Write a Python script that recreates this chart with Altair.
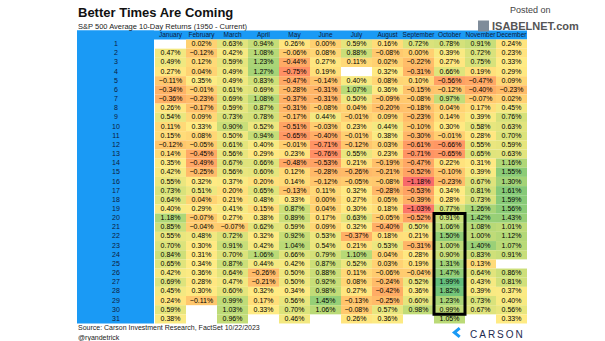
import altair as alt
import pandas as pd
import numpy as np

FONT = "Liberation Sans"

months = ["January", "February", "March", "April", "May", "June", "July",
          "August", "September", "October", "November", "December"]
days = list(range(1, 32))
N = None

jan = [N, 0.47, 0.49, 0.27, -0.11, -0.34, -0.36, 0.26, 0.54, 0.11, 0.15, -0.12, 0.14, 0.35, 0.42, 0.55,
       0.73, 0.64, 0.40, 1.18, 0.85, 0.55, 0.70, 0.84, 0.65, 0.42, 0.69, 0.45, 0.24, 0.59, 0.38]
feb = [0.02, -0.12, 0.12, 0.04, 0.35, -0.01, -0.23, -0.17, 0.09, 0.33, 0.08, -0.05, -0.45, -0.49, -0.25, 0.32,
       0.51, 0.04, 0.29, -0.07, -0.04, 0.48, 0.30, 0.31, 0.34, 0.36, 0.28, 0.30, -0.11, N, N]
mar = [0.63, 0.42, 0.59, 0.49, 0.49, 0.61, 0.69, 0.59, 0.73, 0.90, 0.50, 0.61, 0.56, 0.67, 0.56, 0.37,
       0.20, 0.21, 0.41, 0.27, -0.07, 0.72, 0.91, 0.70, 0.87, 0.64, 0.47, 0.60, 0.99, 1.03, 0.96]
apr = [0.94, 1.08, 1.23, 1.27, 0.83, 0.69, 1.08, 0.87, 0.78, 0.52, 0.94, 0.40, 0.29, 0.66, 0.60, 0.20,
       0.65, 0.48, 0.15, 0.38, 0.62, 0.32, 0.42, 1.06, 0.44, -0.26, -0.21, 0.32, 0.17, 0.33, N]
may = [0.26, -0.06, -0.44, -0.75, -0.47, -0.28, -0.37, -0.31, -0.17, -0.51, -0.65, -0.01, 0.23, -0.48, 0.12, 0.14,
       -0.13, 0.33, 0.87, 0.89, 0.59, 0.92, 1.04, 0.66, 0.42, 0.50, 0.50, 0.34, 0.56, 0.70, 0.46]
jun = [0.00, 0.08, 0.27, 0.19, -0.14, -0.31, -0.31, -0.08, 0.44, -0.03, -0.40, -0.71, -0.76, -0.53, -0.28, -0.12,
       0.11, 0.00, 0.04, 0.17, 0.09, 0.53, 0.54, 0.79, 0.87, 0.88, 0.92, 0.98, 1.45, 1.06, N]
jul = [0.59, 0.88, 0.11, N, 0.40, 1.07, 0.50, 0.04, -0.01, 0.23, -0.01, -0.12, 0.55, 0.21, -0.26, -0.05,
       0.32, 0.27, 0.30, 0.63, 0.32, -0.37, 0.21, 1.10, 0.52, 0.11, 0.08, 0.27, -0.13, -0.08, 0.26]
aug = [0.16, -0.08, 0.02, 0.32, 0.08, 0.36, -0.09, -0.20, 0.09, 0.44, 0.38, 0.03, 0.23, -0.19, -0.21, -0.08,
       -0.28, 0.05, 0.18, -0.05, -0.40, 0.18, 0.53, 0.04, 0.03, -0.06, -0.24, -0.42, -0.25, 0.57, 0.36]
sep = [0.72, 0.00, -0.22, -0.31, 0.10, -0.15, -0.08, -0.18, -0.23, -0.10, -0.30, -0.61, -0.71, -0.47, -0.52, -1.18,
       -0.53, -0.39, -1.03, -0.52, 0.50, 0.21, -0.31, 0.28, 0.19, -0.04, 0.52, 0.36, 0.60, 0.98, N]
octo = [0.78, 0.39, 0.27, 0.66, -0.56, -0.12, 0.97, 0.04, 0.14, 0.30, -0.01, -0.66, -0.65, 0.22, -0.10, -0.23,
        0.34, 0.28, 0.77, 0.91, 1.06, 1.50, 1.00, 0.90, 1.31, 1.47, 1.99, 1.82, 1.23, 0.99, 1.05]
nov = [0.91, 0.72, 0.75, 0.19, -0.47, -0.40, -0.07, 0.17, 0.39, 0.58, 0.28, 0.55, 0.65, 0.31, 0.39, 0.67,
       0.81, 0.73, 1.26, 1.42, 1.08, 1.00, 1.40, 0.83, 0.13, 0.64, 0.43, 0.39, 0.73, 0.67, N]
dec = [0.24, 0.23, 0.33, 0.29, 0.09, -0.23, 0.02, 0.45, 0.76, 0.63, 0.70, 0.59, 0.63, 1.16, 1.55, 1.30,
       1.61, 1.59, 1.56, 1.43, 1.01, 1.12, 1.07, 0.91, N, 0.86, 0.81, 0.37, 0.40, 0.56, 0.33]
month_values = [jan, feb, mar, apr, may, jun, jul, aug, sep, octo, nov, dec]

highlight_month = "October"
highlight_days = [20, 30]

# ---- build table ----
records = []
for m, vals in zip(months, month_values):
    for d, v in zip(days, vals):
        records.append({"month": m, "day": d, "ret": v})
df = pd.DataFrame(records)
df["ret"] = df["ret"].astype(float)
df["top"] = df["day"] - 0.5
df["bot"] = df["day"] + 0.5
valid = df.dropna(subset=["ret"]).copy()

mn, md, mx = valid["ret"].min(), float(np.median(valid["ret"])), valid["ret"].max()

hl = pd.DataFrame({"month": [highlight_month],
                   "top": [highlight_days[0] - 0.5], "bot": [highlight_days[1] + 0.5]})

# ---- layout ----
W, H = 372, 284
LEFT, TOP = 155, 39.5
BLUE = "#1a9af5"
NAVY = "#0d1a3d"

xs = alt.Scale(domain=months, paddingInner=0, paddingOuter=0)
ys = alt.Scale(domain=[0.5, 31.5], reverse=True)
X = alt.X("month:N", scale=xs, axis=None)

one = pd.DataFrame({"a": [0]})

left_band = alt.Chart(one).mark_rect(color=BLUE).encode(
    x=alt.value(-78), x2=alt.value(-1), y=alt.value(-9), y2=alt.value(H))
head_band = alt.Chart(one).mark_rect(color=BLUE).encode(
    x=alt.value(-78), x2=alt.value(W), y=alt.value(-9), y2=alt.value(0))

cells = alt.Chart(valid).mark_rect().encode(
    x=X,
    y=alt.Y("top:Q", scale=ys, axis=None),
    y2="bot:Q",
    color=alt.Color("ret:Q", legend=None,
                    scale=alt.Scale(domain=[mn, md, mx],
                                    range=["#F8696B", "#FFEB84", "#63BE7B"])),
)

cell_text = alt.Chart(valid).transform_calculate(
    lbl="format(datum.ret, '.2f') + '%'"
).mark_text(font=FONT, fontSize=7, color="#000").encode(
    x=X, y=alt.Y("day:Q", scale=ys, axis=None), text="lbl:N")

day_text = alt.Chart(pd.DataFrame({"day": days})).mark_text(
    font=FONT, fontSize=7, color=NAVY).encode(
    x=alt.value(-39), y=alt.Y("day:Q", scale=ys, axis=None), text="day:N")

month_text = alt.Chart(pd.DataFrame({"month": months})).mark_text(
    font=FONT, fontSize=6.5, color=NAVY, baseline="middle").encode(
    x=X, y=alt.value(-4.5), text="month:N")

box = alt.Chart(hl).mark_rect(fill="white", fillOpacity=0, stroke="#000", strokeWidth=3).encode(
    x=X, y=alt.Y("top:Q", scale=ys, axis=None), y2="bot:Q")


def txt(s, x, y, size, color="#111", weight="normal", align="left"):
    return alt.Chart(pd.DataFrame({"t": [s]})).mark_text(
        align=align, baseline="alphabetic", fontSize=size, fontWeight=weight,
        color=color, font=FONT).encode(x=alt.value(x), y=alt.value(y), text="t:N")


title = txt("Better Times Are Coming", -77, -22.5, 13, "#111", "bold")
subtitle = txt("S&P 500 Average 10-Day Returns (1950 - Current)", -77, -11, 7.5, "#222")
posted = txt("Posted on", 355, -27, 9, "#444")
isabel = txt("ISABELNET.com", 337, -10, 11, "#555", "bold")
source = txt("Source: Carson Investment Research, FactSet 10/22/2023", -77, 290.5, 7, "#222")
handle = txt("@ryandetrick", -77, 300.5, 7, "#222")
carson = txt("C\u2009A\u2009R\u2009S\u2009O\u2009N", 315, 298.5, 10, "#1d2b4f")

icon = alt.Chart(one).mark_rect(color="#7f8c9a").encode(
    x=alt.value(323), x2=alt.value(334), y=alt.value(-19), y2=alt.value(-8))

chevron = alt.Chart(one).mark_point(
    shape="M0.6,-1 L-0.6,0 L0.6,1", filled=False, stroke=BLUE, strokeWidth=3, size=80, opacity=1
).encode(x=alt.value(302), y=alt.value(293))

chart = alt.layer(
    left_band, head_band, cells, cell_text, day_text, month_text, box,
    title, subtitle, posted, isabel, icon, source, handle, carson, chevron
).properties(
    width=W, height=H,
    padding={"left": LEFT, "top": TOP, "right": 605 - LEFT - W, "bottom": 341 - TOP - H},
    autosize=alt.AutoSizeParams(type="none"),
    background="white",
).configure_view(strokeWidth=0)

chart.save("out.html", embed_options={"renderer": "svg", "actions": False})
